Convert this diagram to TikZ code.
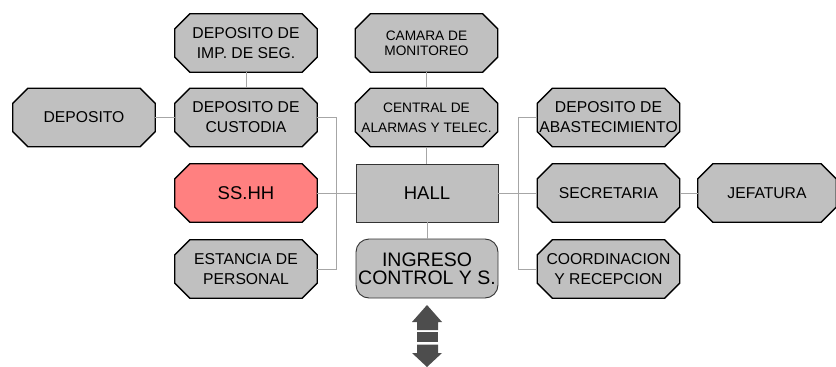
\documentclass[tikz,border=0pt]{standalone}
\usepackage{fontspec}
\setmainfont{Liberation Sans}
\usetikzlibrary{calc,backgrounds}
\definecolor{boxgray}{HTML}{C0C0C0}
\definecolor{pinkfill}{HTML}{FF8080}
\definecolor{linegray}{HTML}{A6A6A6}
\definecolor{arrowgray}{HTML}{4D4D4D}
\tikzset{
  octo/.style={rectangle, minimum width=142pt, minimum height=58pt,
    inner sep=0pt, align=center, font=\fontsize{15.7}{20}\selectfont},
  octoframe/.style={draw=black, line width=1.3pt, line join=miter},
  smalltext/.style={font=\fontsize{13.7}{15}\selectfont},
  midtext/.style={font=\fontsize{13.7}{20}\selectfont},
  conn/.style={draw=linegray, line width=1pt},
}
\newcommand\octagonof[2]{%
  \draw[octoframe, fill=#2]
    ($(#1.north west)+(15,0)$) -- ($(#1.north east)+(-15,0)$) --
    ($(#1.north east)+(0,15)$) -- ($(#1.south east)+(0,-15)$) --
    ($(#1.south east)+(-15,0)$) -- ($(#1.south west)+(15,0)$) --
    ($(#1.south west)+(0,-15)$) -- ($(#1.north west)+(0,15)$) -- cycle;}
\begin{document}
\begin{tikzpicture}[x=1pt,y=-1pt]
\useasboundingbox (0,0) rectangle (836,367);
% left column
\node[octo] (imp) at (246,43) {DEPOSITO DE\\IMP. DE SEG.};
\node[octo] (cust) at (246,117.5) {DEPOSITO DE\\CUSTODIA};
\node[octo] (dep) at (84,117.5) {DEPOSITO};
\node[octo, font=\fontsize{18.5}{20}\selectfont] (ss) at (246,193) {SS.HH};
\node[octo] (est) at (246,269) {ESTANCIA DE\\PERSONAL};
% center column
\node[octo, smalltext] (cam) at (426.5,43) {CAMARA DE\\MONITOREO};
\node[octo, midtext] (cen) at (426.5,117.5) {CENTRAL DE\\ALARMAS Y TELEC.};
\node[draw=black!80, line width=0.9pt, fill=boxgray, minimum width=142pt, minimum height=58pt,
  inner sep=0pt, font=\fontsize{18.5}{20}\selectfont] (hall) at (427,193) {HALL};
\node[draw=black!80, line width=0.9pt, fill=boxgray, rounded corners=13pt, minimum width=142pt,
  minimum height=59pt, inner sep=0pt, align=center, font=\fontsize{19.5}{18}\selectfont] (ing) at (427,268.5) {INGRESO\\CONTROL Y S.};
% right column
\node[octo] (aba) at (608.5,117.5) {DEPOSITO DE\\ABASTECIMIENTO};
\node[octo] (sec) at (608.5,193) {SECRETARIA};
\node[octo] (coo) at (608.5,269) {COORDINACION\\Y RECEPCION};
\node[octo, minimum width=138pt] (jef) at (767,193) {JEFATURA};
% octagon frames behind the texts
\begin{scope}[on background layer]
  \foreach \n in {imp,cust,dep,est,cam,cen,aba,sec,coo,jef} {\octagonof{\n}{boxgray}}
  \octagonof{ss}{pinkfill}
\end{scope}
% connectors
\coordinate (lb) at (336,0);
\coordinate (rb) at (518,0);
\draw[conn] (imp.south) -- (cust.north);
\draw[conn] (dep.east) -- (cust.west);
\draw[conn] (cust.east) -- (cust.east -| lb) -- (est.east -| lb) -- (est.east);
\draw[conn] (ss.east) -- (hall.west);
\draw[conn] (cam.south) -- (cen.north);
\draw[conn] (cen.south) -- (cen.south |- hall.north);
\draw[conn] (hall.south) -- (hall.south |- ing.north);
\draw[conn] (hall.east) -- (sec.west);
\draw[conn] (aba.west) -- (aba.west -| rb) -- (coo.west -| rb) -- (coo.west);
\draw[conn] (sec.east) -- (jef.west);
% double arrow
\fill[arrowgray] (427,305) -- (442,322) -- (438,322) -- (438,330) -- (417,330) -- (417,322) -- (412,322) -- cycle;
\fill[arrowgray] (417,332) rectangle (438,342);
\fill[arrowgray] (417,344.5) -- (438,344.5) -- (438,353) -- (442,353) -- (427,367) -- (412,353) -- (417,353) -- cycle;
\end{tikzpicture}
\end{document}
